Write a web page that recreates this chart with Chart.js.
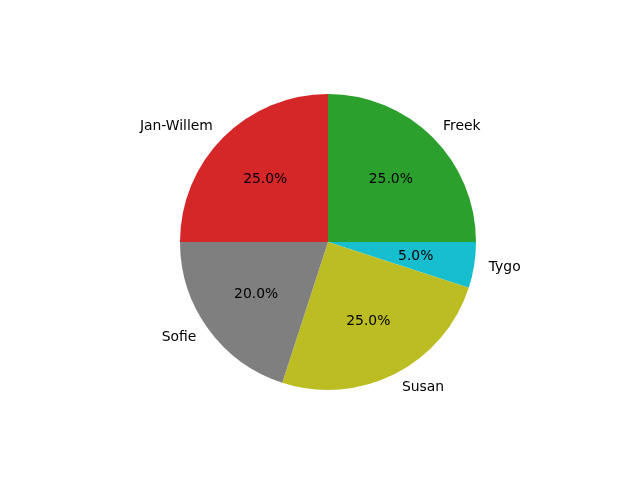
<!DOCTYPE html>
<html>
<head>
<meta charset="utf-8">
<script src="https://cdn.jsdelivr.net/npm/chart.js@4.4.0/dist/chart.umd.min.js"></script>
<style>
html,body{margin:0;padding:0;background:#fff;}
#wrap{width:640px;height:480px;position:relative;}
</style>
</head>
<body>
<div id="wrap"><canvas id="c" width="640" height="480"></canvas></div>
<script>
// Order: clockwise from east (matplotlib draws counter-clockwise, so reversed)
const names = ["Tygo", "Susan", "Sofie", "Jan-Willem", "Freek"];
const shares = [5, 25, 20, 25, 25];
const sliceColors = ["#17becf", "#bcbd22", "#7f7f7f", "#d62728", "#2ca02c"];

const labelPlugin = {
  id: 'pieLabels',
  afterDatasetsDraw(chart) {
    const ctx = chart.ctx;
    const meta = chart.getDatasetMeta(0);
    const data = chart.data.datasets[0].data;
    const total = data.reduce((a, b) => a + b, 0);
    ctx.save();
    ctx.font = '13.9px "DejaVu Sans"';
    ctx.fillStyle = '#000';
    ctx.textBaseline = 'middle';
    meta.data.forEach((arc, i) => {
      const p = arc.getProps(['x', 'y', 'startAngle', 'endAngle', 'outerRadius'], true);
      const mid = (p.startAngle + p.endAngle) / 2;
      const cx = Math.cos(mid), cy = Math.sin(mid);
      // outer label
      const lx = p.x + 1.1 * p.outerRadius * cx;
      const ly = p.y + 1.1 * p.outerRadius * cy;
      ctx.textAlign = cx > 0 ? 'left' : 'right';
      ctx.fillText(chart.data.labels[i], lx, ly);
      // percentage
      const px = p.x + 0.6 * p.outerRadius * cx;
      const py = p.y + 0.6 * p.outerRadius * cy;
      ctx.textAlign = 'center';
      ctx.fillText((data[i] / total * 100).toFixed(1) + '%', px, py);
    });
    ctx.restore();
  }
};

new Chart(document.getElementById('c'), {
  type: 'pie',
  data: {
    labels: names,
    datasets: [{
      data: shares,
      backgroundColor: sliceColors,
      borderWidth: 0
    }]
  },
  options: {
    responsive: false,
    animation: false,
    rotation: 90,
    layout: { padding: { left: 180, right: 164, top: 94, bottom: 90 } },
    plugins: {
      legend: { display: false },
      tooltip: { enabled: false }
    }
  },
  plugins: [labelPlugin]
});
</script>
</body>
</html>
